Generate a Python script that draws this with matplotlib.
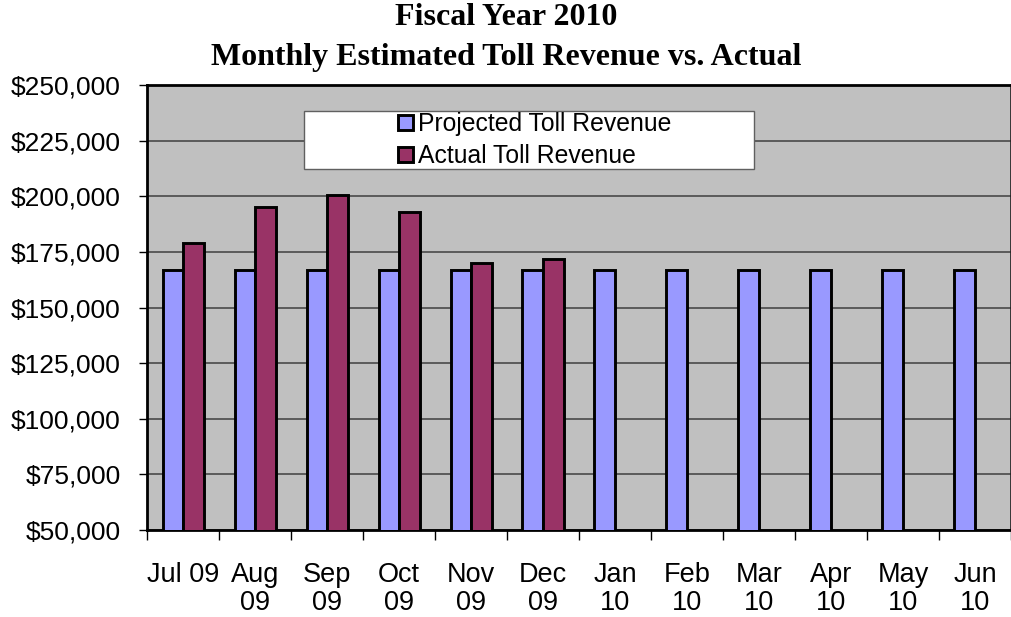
import numpy as np
import matplotlib.pyplot as plt
from matplotlib.patches import Rectangle
from matplotlib.ticker import FuncFormatter

months = ['Jul 09', 'Aug\n09', 'Sep\n09', 'Oct\n09', 'Nov\n09', 'Dec\n09',
          'Jan\n10', 'Feb\n10', 'Mar\n10', 'Apr\n10', 'May\n10', 'Jun\n10']
projected = [166667] * 12
actual = [179100, 195200, 200400, 192800, 169800, 171600]

plt.rcParams['font.family'] = ['Liberation Sans', 'DejaVu Sans']

fig = plt.figure(figsize=(10.12, 6.17), dpi=100)
ax = fig.add_axes([0.1453, 0.141, 0.8537, 0.7212])
ax.set_facecolor('#C0C0C0')

x = np.arange(len(months))
w = 0.285
ax.bar(x - w/2, projected, w, color='#9999FF', edgecolor='black', linewidth=2.1,
       label='Projected Toll Revenue', zorder=3)
ax.bar(np.arange(len(actual)) + w/2, actual, w, color='#993366', edgecolor='black',
       linewidth=2.1, label='Actual Toll Revenue', zorder=3)

ax.set_xlim(-0.5, len(months) - 0.5)
ax.set_ylim(50000, 250000)
ax.set_yticks(np.arange(50000, 250001, 25000))
ax.yaxis.set_major_formatter(FuncFormatter(lambda v, p: '${:,.0f}'.format(v)))
ax.grid(axis='y', color='#404040', linewidth=1.1, zorder=1)

ax.set_xticks(x)
ax.set_xticklabels(months, linespacing=1.12)
ax.set_xticks(np.arange(-0.5, len(months), 1), minor=True)
ax.tick_params(axis='x', which='major', length=0, pad=23, labelsize=19.5)
ax.tick_params(axis='x', which='minor', length=7, width=1, color='black')
ax.tick_params(axis='y', length=6, width=1, pad=13, labelsize=19)

for s in ['top', 'left', 'bottom']:
    ax.spines[s].set_linewidth(2)
    ax.spines[s].set_color('black')
ax.spines['right'].set_linewidth(1.2)
ax.spines['right'].set_color('#202020')

# legend box
ax.add_patch(Rectangle((0.1817, 0.811), 0.5208, 0.1306, transform=ax.transAxes,
                       facecolor='white', edgecolor='#606060', linewidth=1, zorder=5))
leg = ax.legend(loc='center', bbox_to_anchor=(0.449, 0.876), frameon=False,
                fontsize=17.8, handlelength=0.6, handleheight=0.6, handletextpad=0.2,
                labelspacing=0.33, borderpad=0)
leg.set_zorder(6)

fig.text(0.5, 0.995, 'Fiscal Year 2010\nMonthly Estimated Toll Revenue vs. Actual',
         ha='center', va='top', fontsize=23, fontweight='bold',
         family='Liberation Serif', linespacing=1.5)

fig.savefig('out.png', dpi=100)
